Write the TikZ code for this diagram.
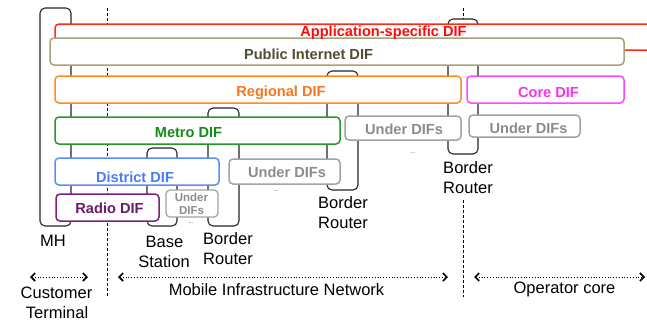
\documentclass[tikz,border=0pt]{standalone}
\usepackage{fontspec}
\setmainfont{Liberation Sans}
\usetikzlibrary{arrows.meta}
\definecolor{cred}{HTML}{FF2A1A}
\definecolor{tred}{HTML}{FF0A0A}
\definecolor{ckhaki}{HTML}{A9A17A}
\definecolor{tkhaki}{HTML}{524C30}
\definecolor{corange}{HTML}{FF8A1E}
\definecolor{torange}{HTML}{F7761E}
\definecolor{cmag}{HTML}{FF45FF}
\definecolor{tmag}{HTML}{F532F0}
\definecolor{cgreen}{HTML}{229A2A}
\definecolor{tgreen}{HTML}{188A1C}
\definecolor{cblue}{HTML}{5A8EF7}
\definecolor{tblue}{HTML}{4A7CF5}
\definecolor{cpurple}{HTML}{7E2080}
\definecolor{tpurple}{HTML}{6C1A6E}
\definecolor{cgray}{HTML}{A2A2A2}
\definecolor{tgray}{HTML}{8C8C8C}
\tikzset{
  difbox/.style={draw, fill=white, rounded corners=4pt, line width=1.5pt},
  devbox/.style={draw=black!85, rounded corners=5pt, line width=1.1pt},
  bl/.style={font=\fontsize{14.6}{16}\selectfont\bfseries, inner sep=0pt},
  sbl/.style={font=\fontsize{11.5}{12}\selectfont\bfseries, inner sep=0pt, text=tgray},
  rl/.style={font=\fontsize{16.5}{20}\selectfont, inner sep=0pt, align=center},
  sepline/.style={line width=0.9pt, dash pattern=on 3pt off 2pt},
  dotsl/.style={font=\fontsize{6}{6}\selectfont, inner sep=0pt, text=black!70},
  span/.style={line width=0.8pt, dotted, {Straight Barb[length=4pt,width=8pt,line width=1.6pt]}-{Straight Barb[length=4pt,width=8pt,line width=1.6pt]}}
}
\begin{document}
\begin{tikzpicture}[x=1pt,y=-1pt]
\clip (0,0) rectangle (647,322);
\fill[white] (0,0) rectangle (647,322);
% devices
\draw[devbox] (40,8) rectangle (71,226);
\draw[devbox] (147,148) rectangle (177,226);
\draw[devbox] (208,108) rectangle (239,226);
\draw[devbox] (327,71) rectangle (358,190);
\draw[devbox] (448,19) rectangle (478,154);
% separators
\coordinate (s1a) at (107,8); \coordinate (s1b) at (107,297);
\coordinate (s2a) at (463,8); \coordinate (s2b) at (463,19);
\coordinate (s2c) at (463,200); \coordinate (s2d) at (463,297);
\draw[sepline] (s1a) -- (s1b);
\draw[sepline] (s2a) -- (s2b);
\draw[sepline] (s2c) -- (s2d);
% DIFs
\draw[difbox, draw=cred] (55,24) rectangle (700,50);
\draw[difbox, draw=ckhaki] (50,38) rectangle (624,65);
\node[bl, text=tred] (tapp) at (383.5,33) {Application-specific DIF};
\node[bl, text=tkhaki] (tpub) at (308.5,54) {Public Internet DIF};
\draw[difbox, draw=corange] (55,76) rectangle (461,103);
\node[bl, text=torange] (treg) at (281,92.5) {Regional DIF};
\draw[difbox, draw=cmag] (467,76) rectangle (624,103);
\node[bl, text=tmag] (tcore) at (548.5,92.5) {Core DIF};
\draw[difbox, draw=cgreen] (55,117) rectangle (340,144);
\node[bl, text=tgreen] (tmetro) at (188.5,132.5) {Metro DIF};
\draw[difbox, draw=cgray] (345,116) rectangle (461,140);
\node[bl, text=tgray] (tu1) at (404,129.5) {Under DIFs};
\draw[difbox, draw=cgray] (469,115) rectangle (580,137);
\node[bl, text=tgray] (tu2) at (528.5,128) {Under DIFs};
\draw[difbox, draw=cblue] (55,158) rectangle (219,185);
\node[bl, text=tblue] (tdist) at (135,177) {District DIF};
\draw[difbox, draw=cgray] (229,159) rectangle (340,184);
\node[bl, text=tgray] (tu3) at (287,172) {Under DIFs};
\draw[difbox, draw=cpurple] (56,194) rectangle (159,221);
\node[bl, text=tpurple] (tradio) at (109.5,208) {Radio DIF};
\draw[difbox, draw=cgray, line width=1.2pt] (166,190) rectangle (218,217);
\node[sbl] (tu4a) at (191.5,197.5) {Under};
\node[sbl] (tu4b) at (191.5,211) {DIFs};
% ellipses
\node[dotsl] (d1) at (413,153) {...};
\node[dotsl] (d2) at (276,191) {...};
\node[dotsl] (d3) at (191,223) {...};
% device labels
\node[rl] (lmh) at (53,240.5) {MH};
\node[rl] (lbs1) at (164.5,241.5) {Base};
\node[rl] (lbs2) at (164,261.5) {Station};
\node[rl] (lbr1a) at (228,238.5) {Border};
\node[rl] (lbr1b) at (228,258.5) {Router};
\node[rl] (lbr2a) at (343,202.5) {Border};
\node[rl] (lbr2b) at (343,222.5) {Router};
\node[rl] (lbr3a) at (468,167.5) {Border};
\node[rl] (lbr3b) at (468,187.5) {Router};
% spans
\coordinate (ca) at (30,277); \coordinate (cb) at (88,277);
\coordinate (ma) at (118,277); \coordinate (mb) at (448,277);
\coordinate (oa) at (474,277); \coordinate (ob) at (645,277);
\draw[span] (ca) -- (cb);
\draw[span] (ma) -- (mb);
\draw[span] (oa) -- (ob);
\node[rl] (lct1) at (56.5,293) {Customer};
\node[rl] (lct2) at (57,312.5) {Terminal};
\node[rl] (lmin) at (276.5,289.5) {Mobile Infrastructure Network};
\node[rl] (lop) at (564.5,289) {Operator core};
\end{tikzpicture}
\end{document}
